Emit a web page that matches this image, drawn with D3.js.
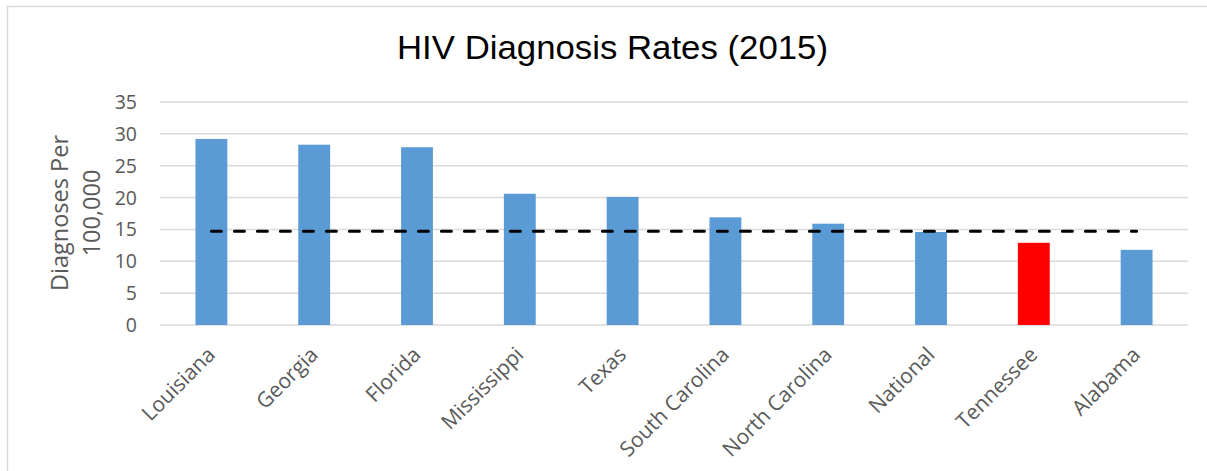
<!DOCTYPE html>
<html>
<head>
<meta charset="utf-8">
<script src="https://cdn.jsdelivr.net/npm/d3@7"></script>
<style>
  body { margin: 0; background: #fff; }
  svg { display: block; }
</style>
</head>
<body>
<div id="chart"></div>
<script>
'use strict';

var states = ['Louisiana', 'Georgia', 'Florida', 'Mississippi', 'Texas',
    'South Carolina', 'North Carolina', 'National', 'Tennessee', 'Alabama'];
var rates = [29.2, 28.3, 27.9, 20.6, 20.1, 16.9, 15.9, 14.6, 12.9, 11.8];
var nationalLine = [14.7, 14.7, 14.7, 14.7, 14.7, 14.7, 14.7, 14.7, 14.7, 14.7];
var yTicks = [0, 5, 10, 15, 20, 25, 30, 35];
var highlight = 'Tennessee';

var w = 1207, h = 471;
var plotLeft = 160, plotRight = 1188, plotTop = 102, plotBottom = 325;
var grey = '#595959';
var font = "'Open Sans', sans-serif";

var svg = d3.select('#chart')
    .append('svg')
    .attr('width', w)
    .attr('height', h);

// chart frame
svg.append('rect')
    .attr('x', 7.5)
    .attr('y', 6.5)
    .attr('width', 1260)
    .attr('height', 500)
    .attr('fill', 'none')
    .attr('stroke', '#d9d9d9')
    .attr('stroke-width', 1.5);

var x = d3.scaleBand()
    .domain(states)
    .range([plotLeft, plotRight])
    .paddingInner(0.69)
    .paddingOuter(0.345);

var y = d3.scaleLinear()
    .domain([0, 35])
    .range([plotBottom, plotTop]);

// gridlines
svg.append('g')
    .selectAll('line')
    .data(yTicks)
    .enter()
    .append('line')
    .attr('x1', plotLeft)
    .attr('x2', plotRight)
    .attr('y1', function(d) { return y(d); })
    .attr('y2', function(d) { return y(d); })
    .attr('stroke', '#d9d9d9')
    .attr('stroke-width', 1.5);

// y tick labels
svg.append('g')
    .selectAll('text')
    .data(yTicks)
    .enter()
    .append('text')
    .text(function(d) { return d; })
    .attr('x', 137)
    .attr('y', function(d) { return y(d); })
    .attr('dy', '0.36em')
    .attr('text-anchor', 'end')
    .attr('font-family', font)
    .attr('font-size', 19.5)
    .attr('fill', grey);

// bars
svg.append('g')
    .selectAll('rect')
    .data(states)
    .enter()
    .append('rect')
    .attr('x', function(d) { return x(d); })
    .attr('width', x.bandwidth())
    .attr('y', function(d, i) { return y(rates[i]); })
    .attr('height', function(d, i) { return y(0) - y(rates[i]); })
    .attr('fill', function(d) { return d === highlight ? '#ff0000' : '#5b9bd5'; });

// national average, dashed
var line = d3.line()
    .x(function(d, i) { return x(states[i]) + x.bandwidth() / 2; })
    .y(function(d) { return y(d); });

svg.append('path')
    .datum(nationalLine)
    .attr('d', line)
    .attr('fill', 'none')
    .attr('stroke', '#000')
    .attr('stroke-width', 3)
    .attr('stroke-linecap', 'round')
    .attr('stroke-dasharray', '10,13');

// x labels
svg.append('g')
    .selectAll('text')
    .data(states)
    .enter()
    .append('text')
    .text(function(d) { return d; })
    .attr('transform', function(d) {
        return 'translate(' + (x(d) + x.bandwidth() / 2 + 5) + ',356) rotate(-45)';
    })
    .attr('text-anchor', 'end')
    .attr('font-family', font)
    .attr('font-size', 21)
    .attr('fill', grey);

// axis title
svg.append('text')
    .attr('transform', 'translate(0,213) rotate(-90)')
    .attr('text-anchor', 'middle')
    .attr('font-family', font)
    .attr('font-size', 23.5)
    .attr('fill', grey)
    .selectAll('tspan')
    .data(['Diagnoses Per', '100,000'])
    .enter()
    .append('tspan')
    .attr('x', 0)
    .attr('y', function(d, i) { return 68 + i * 32; })
    .text(function(d) { return d; });

// title
svg.append('text')
    .text('HIV Diagnosis Rates (2015)')
    .attr('x', 612.5)
    .attr('y', 59)
    .attr('text-anchor', 'middle')
    .attr('font-family', "'Liberation Sans', Arial, sans-serif")
    .attr('font-size', 34)
    .attr('textLength', 431)
    .attr('lengthAdjust', 'spacingAndGlyphs')
    .attr('fill', '#000');
</script>
</body>
</html>
